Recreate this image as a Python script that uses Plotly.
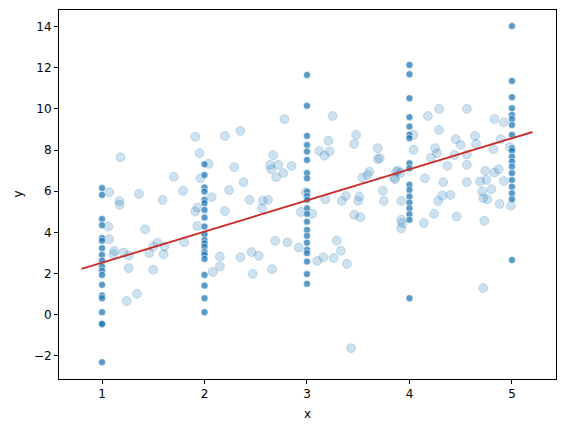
import plotly.graph_objects as go

# Points sitting exactly on integer x values (darker markers)
y_at_1 = [6.15, 5.82, 4.65, 4.35, 3.72, 3.59, 3.23, 2.91, 2.63, 2.34, 2.14, 1.93, 1.45, 0.93, 0.80, 0.12, -0.45, -0.45, -2.31]
y_at_2 = [7.31, 6.79, 6.18, 5.98, 5.58, 5.42, 5.09, 4.72, 4.28, 3.91, 3.63, 3.47, 3.31, 3.04, 2.91, 2.71, 1.93, 1.41, 0.80, 0.12]
y_at_3 = [11.65, 10.15, 8.69, 8.25, 7.93, 7.52, 6.88, 6.63, 5.98, 5.77, 5.58, 5.17, 4.90, 4.52, 4.12, 3.83, 3.50, 3.15, 2.99, 2.58, 1.97, 1.50]
y_at_4 = [12.14, 11.69, 10.52, 9.60, 9.14, 8.74, 8.58, 7.36, 7.12, 6.31, 6.06, 5.74, 5.45, 5.17, 4.88, 4.61, 0.80]
y_at_5 = [14.03, 11.36, 10.57, 10.03, 9.71, 9.51, 9.22, 8.74, 8.09, 7.97, 7.68, 7.44, 7.20, 6.88, 6.55, 6.22, 5.90, 5.61, 2.66]

# Continuous (pale) points
cont_x = [1.18, 1.07, 1.17, 1.17, 1.36, 1.59, 1.70, 1.79, 1.95, 1.91, 2.04, 2.07, 1.91, 1.93, 1.93, 1.06, 1.42, 1.07,
          1.12, 1.11, 1.21, 1.26, 1.46, 1.50, 1.54, 1.61, 1.60, 1.80, 1.26, 1.50, 1.34, 1.24, 1.96,
          2.20, 2.35, 2.78, 2.29, 2.38, 2.24, 2.20, 2.44, 2.56, 2.57, 2.62, 2.67, 2.64, 2.65, 2.72, 2.70, 2.77, 2.85,
          2.15, 2.15, 2.08, 2.35, 2.46, 2.53, 2.47, 2.66, 2.69, 2.81, 2.92, 2.94, 2.99,
          3.25, 3.21, 3.12, 3.17, 3.22, 3.48, 3.46, 3.69, 3.69, 3.54, 3.59, 3.61, 3.87, 3.91, 3.85, 3.18, 3.34, 3.38,
          3.51, 3.50, 3.74, 3.75, 3.92, 3.05, 3.46, 3.52, 3.29, 3.33, 3.26, 3.16, 3.10, 3.39, 3.43, 3.92, 3.93, 3.92,
          3.71, 3.89, 3.86, 4.04, 4.04, 4.18, 4.29, 4.29, 4.56, 4.25, 4.27, 4.21, 4.45, 4.50, 4.44, 4.37, 4.56, 4.56,
          4.64, 4.65, 4.83, 4.92, 4.89, 4.82, 4.15, 4.33, 4.56, 4.28, 4.32, 4.40, 4.24, 4.14, 4.46, 4.74, 4.69, 4.75,
          4.83, 4.87, 4.80, 4.71, 4.72, 4.76, 4.88, 4.92, 4.99, 4.73, 4.72, 4.98]
cont_y = [7.65, 5.95, 5.53, 5.34, 5.87, 5.58, 6.70, 6.02, 7.85, 8.65, 7.33, 5.71, 5.01, 5.20, 4.31, 4.28, 4.15, 3.67,
          3.10, 2.94, 3.02, 2.87, 2.99, 3.31, 3.50, 3.31, 2.94, 3.52, 2.26, 2.18, 1.01, 0.66, 6.63,
          8.69, 8.93, 9.51, 7.17, 6.44, 6.06, 5.04, 5.58, 5.17, 5.54, 5.58, 7.76, 7.28, 7.07, 7.28, 6.68, 6.88, 7.23,
          2.82, 2.34, 2.07, 2.79, 3.04, 2.86, 1.98, 2.21, 3.59, 3.52, 3.26, 4.99, 5.95,
          9.66, 8.45, 7.96, 7.73, 7.93, 8.74, 8.30, 8.09, 7.56, 6.66, 6.79, 6.95, 6.95, 6.88, 6.66, 5.61, 5.53, 5.77,
          5.74, 5.53, 6.02, 5.53, 5.53, 4.90, 4.85, 4.74, 3.60, 3.10, 2.75, 2.79, 2.61, 2.47, -1.63, 4.61, 4.45, 4.20,
          7.60, 7.00, 6.58, 8.74, 8.01, 9.66, 10.00, 8.98, 10.00, 8.09, 7.85, 7.63, 8.53, 8.25, 7.76, 7.23, 7.79, 7.28,
          8.69, 8.30, 9.51, 9.35, 8.53, 8.04, 6.63, 6.44, 6.44, 5.53, 5.79, 5.82, 4.90, 4.45, 4.77, 6.99, 6.47, 6.55,
          6.91, 7.07, 6.10, 5.98, 5.66, 5.61, 5.38, 6.50, 5.29, 4.56, 1.29, 8.14]

# Fitted regression line endpoints
line_x = [0.8, 5.2]
line_y = [2.22, 8.88]

x_ticks = [1, 2, 3, 4, 5]
y_ticks = [-2, 0, 2, 4, 6, 8, 10, 12, 14]

int_x, int_y = [], []
for xv, ys in zip(x_ticks, [y_at_1, y_at_2, y_at_3, y_at_4, y_at_5]):
    int_x += [xv] * len(ys)
    int_y += ys

fig = go.Figure()
fig.add_trace(go.Scatter(
    x=cont_x, y=cont_y, mode="markers",
    marker=dict(size=9, color="rgba(31,119,180,0.22)",
                line=dict(color="rgba(31,119,180,0.25)", width=0.8)),
    showlegend=False, hoverinfo="skip"))
fig.add_trace(go.Scatter(
    x=int_x, y=int_y, mode="markers",
    marker=dict(size=7, color="rgba(31,119,180,0.74)",
                line=dict(color="rgba(255,255,255,0.8)", width=0.7)),
    showlegend=False, hoverinfo="skip"))
fig.add_trace(go.Scatter(
    x=line_x, y=line_y, mode="lines",
    line=dict(color="#c9302c", width=1.9),
    showlegend=False, hoverinfo="skip"))

axis_common = dict(showgrid=False, zeroline=False, showline=True, linecolor="black",
                   linewidth=1, mirror=True, ticks="outside", ticklen=4, tickwidth=1,
                   tickcolor="black", tickfont=dict(size=12, color="black"), automargin=False)
fig.update_xaxes(range=[0.58, 5.43], tickvals=x_ticks, ticktext=[str(v) for v in x_ticks], **axis_common)
fig.update_yaxes(range=[-3.13, 14.81], tickvals=y_ticks,
                 ticktext=[("\u2212" + str(-v)) if v < 0 else str(v) for v in y_ticks], **axis_common)
fig.update_layout(width=557, height=424, margin=dict(l=51, r=9, t=2, b=53),
                  plot_bgcolor="white", paper_bgcolor="white",
                  font=dict(family="DejaVu Sans", size=12, color="black"),
                  annotations=[
                      dict(text="x", xref="paper", yref="paper", x=0.5, y=0, yshift=-26,
                           xanchor="center", yanchor="top", showarrow=False, font=dict(size=12)),
                      dict(text="y", xref="paper", yref="paper", x=0, y=0.5, xshift=-33,
                           xanchor="right", yanchor="middle", textangle=-90, showarrow=False,
                           font=dict(size=12)),
                  ])
fig.write_html("out.html")
